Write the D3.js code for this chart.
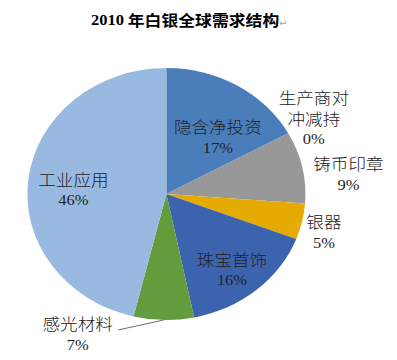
<!DOCTYPE html>
<html>
<head>
<meta charset="utf-8">
<script src="https://cdn.jsdelivr.net/npm/d3@7"></script>
<style>
  html, body { margin: 0; padding: 0; background: #ffffff; }
  svg { display: block; }
</style>
</head>
<body>
<script>
// ---- data ----
const categories = ["隐含净投资", "生产商对冲减持", "铸币印章", "银器", "珠宝首饰", "感光材料", "工业应用"];
const labelLines = [["隐含净投资"], ["生产商对", "冲减持"], ["铸币印章"], ["银器"], ["珠宝首饰"], ["感光材料"], ["工业应用"]];
const values = [17.0, 0, 9.2, 4.6, 16.0, 7.0, 46.2];   // share of demand, %
const titleYear = "2010";
const titleText = " 年白银全球需求结构";

// ---- style / layout ----
const colors = ["#4a7ebb", "#c0504d", "#989898", "#e6ab02", "#3c63ae", "#629c3c", "#98b9e0"];
// label anchor: [angle in degrees clockwise from top, radius factor]
const labelPolar = [[39.3, 0.584], [60.4, 1.22], [83.1, 1.319], [105, 1.173], [141.8, 0.763], [209.9, 1.281], [273.1, 0.670]];
const showLeader = [false, false, false, false, false, true, false];

const W = 397, H = 360;
const cx = 166.4, cy = 194, ry = 126, rx = 139;
const sx = rx / ry;
const lineH = 21;
const fmtPct = d3.format(".0%");

const svg = d3.select("body").append("svg").attr("width", W).attr("height", H);

// title
const title = svg.append("g").attr("transform", `translate(91,19) scale(1.1,1)`)
  .append("text")
  .attr("dominant-baseline", "central")
  .attr("font-weight", "bold")
  .attr("fill", "#000");
title.append("tspan").attr("font-family", "'Liberation Serif', 'Times New Roman', serif").attr("font-size", 15).text(titleYear);
title.append("tspan").attr("font-family", "'Noto Sans CJK SC', sans-serif").attr("font-size", 15.3).text(titleText);
title.append("tspan").attr("font-family", "'DejaVu Sans', sans-serif").attr("font-weight", "normal")
  .attr("font-size", 9).attr("fill", "#a0a0a0").attr("dy", 3).text("\u21b5");

// pie
const pie = d3.pie().sort(null).value(d => d)(values);
const arc = d3.arc().innerRadius(0).outerRadius(ry);

const gPie = svg.append("g").attr("transform", `translate(${cx},${cy}) scale(${sx},1)`);
gPie.selectAll("path").data(pie).join("path")
  .attr("d", arc)
  .attr("fill", (d, i) => colors[i]);

// labels
const angleScale = d3.scaleLinear().domain([0, 360]).range([0, 2 * Math.PI]);
const gLab = svg.append("g");
pie.forEach((d, i) => {
  const a = angleScale(labelPolar[i][0]);
  const r = labelPolar[i][1];
  const x = cx + rx * r * Math.sin(a);
  const y = cy - ry * r * Math.cos(a);
  const lines = labelLines[i].concat([fmtPct(values[i] / 100)]);
  const y0 = y - (lines.length - 1) * lineH / 2;
  lines.forEach((t, k) => {
    const isPct = k === lines.length - 1;
    gLab.append("g")
      .attr("transform", `translate(${x},${y0 + k * lineH}) scale(1.1,1)`)
      .append("text")
      .attr("text-anchor", "middle")
      .attr("dominant-baseline", "central")
      .attr("font-family", isPct ? "'Liberation Serif', 'Times New Roman', serif" : "'Noto Sans CJK SC', sans-serif")
      .attr("font-weight", isPct ? "normal" : 300)
      .attr("font-size", isPct ? 15 : 16)
      .attr("fill", "#222")
      .text(t);
  });
  if (showLeader[i]) {
    const mid = (d.startAngle + d.endAngle) / 2;
    const ex = cx + rx * Math.sin(mid);
    const ey = cy - ry * Math.cos(mid);
    const textHalf = labelLines[i][0].length * 16 * 1.1 / 2;
    gLab.append("line")
      .attr("x1", ex).attr("y1", ey)
      .attr("x2", x + textHalf + 5.5).attr("y2", y0 + 6.5)
      .attr("stroke", "#6e6e6e").attr("stroke-width", 1);
  }
});
</script>
</body>
</html>
